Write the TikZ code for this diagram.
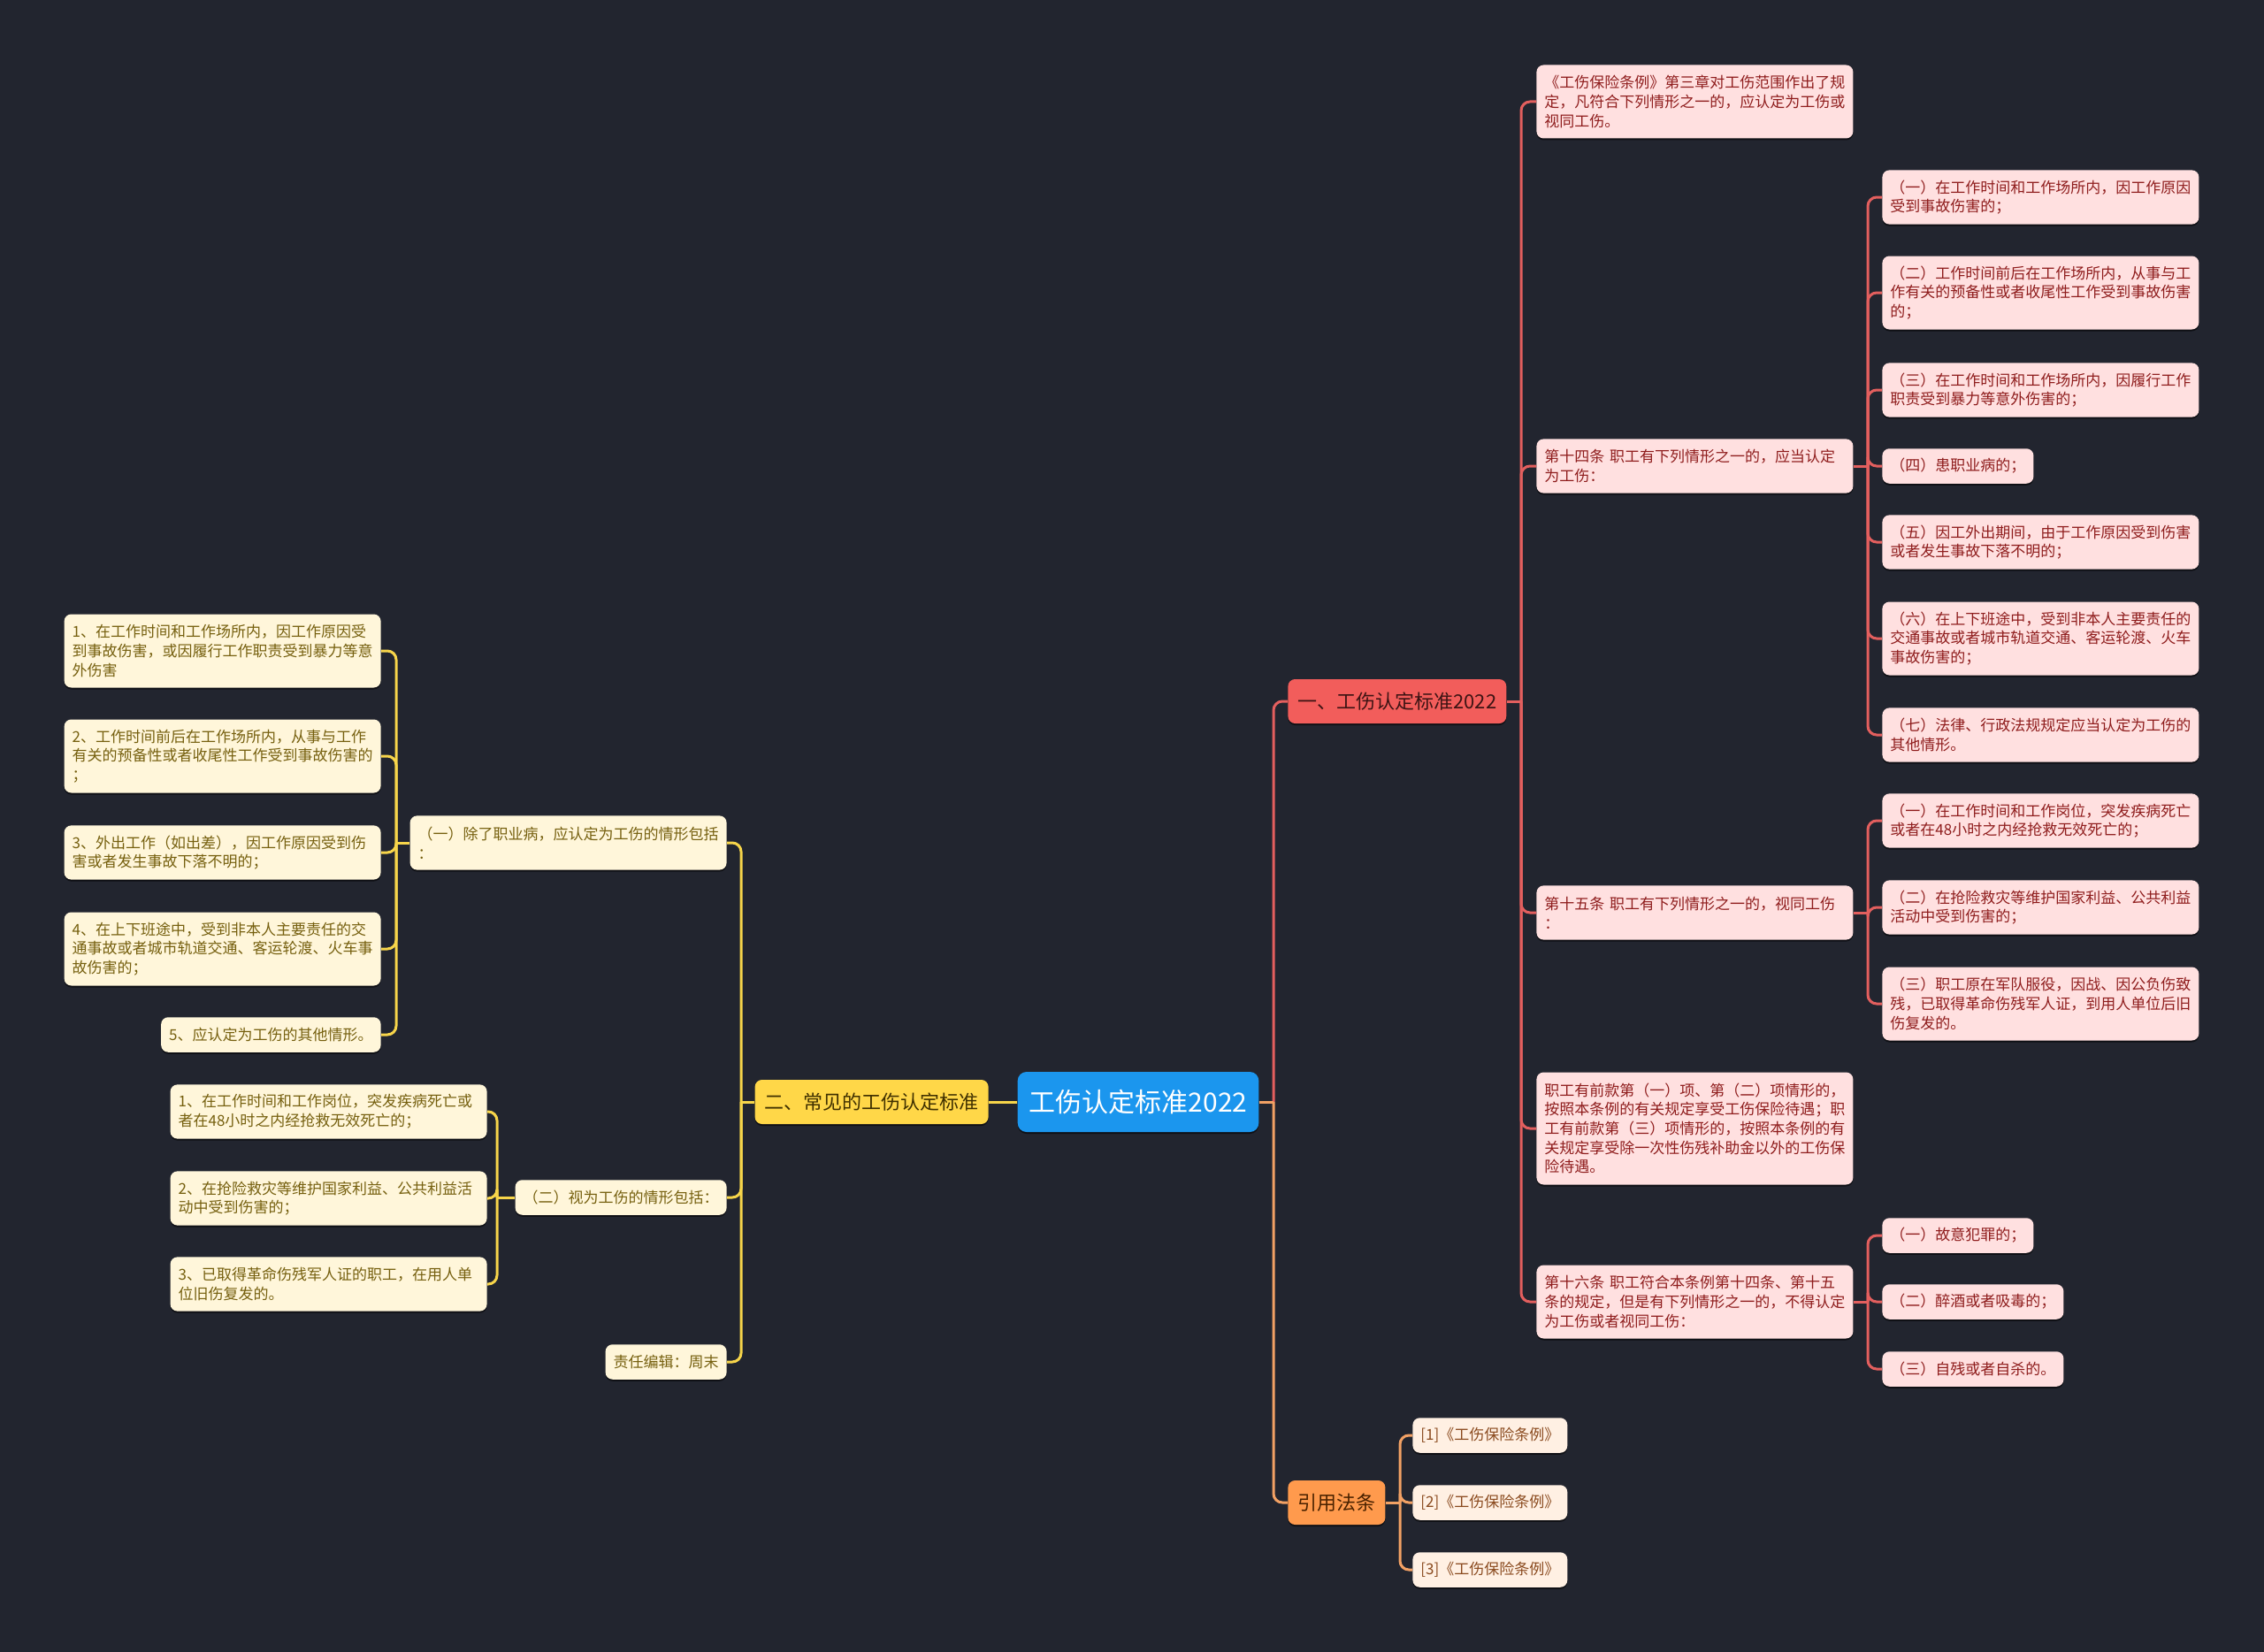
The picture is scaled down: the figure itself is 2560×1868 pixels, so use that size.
\documentclass[tikz,border=0pt]{standalone}
\usepackage{fontspec}
\setmainfont{Noto Sans CJK SC}
\usetikzlibrary{shadows}
\definecolor{bg}{HTML}{22252F}
\definecolor{rootfill}{HTML}{1B96EE}
\definecolor{rfill}{HTML}{F25D5B}
\definecolor{rdark}{HTML}{3D1414}
\definecolor{rln}{HTML}{E35F5E}
\definecolor{rleaffill}{HTML}{FFE0E0}
\definecolor{rtext}{HTML}{8F1D1D}
\definecolor{yfill}{HTML}{FFD748}
\definecolor{ydark}{HTML}{3F3000}
\definecolor{yln}{HTML}{F7D54A}
\definecolor{yleaffill}{HTML}{FFF6DA}
\definecolor{ytext}{HTML}{76600F}
\definecolor{ofill}{HTML}{FF9A4D}
\definecolor{odark}{HTML}{4A2200}
\definecolor{oln}{HTML}{F2A164}
\definecolor{oleaffill}{HTML}{FFF0E3}
\definecolor{otext}{HTML}{8A4A1E}
\begin{document}
\begin{tikzpicture}[x=0.5pt,y=-0.5pt,
  box/.style={rounded corners=4pt, inner xsep=4.5pt, inner ysep=1pt, align=left,
    font=\fontsize{8.5pt}{10.85pt}\selectfont,
    drop shadow={shadow xshift=0pt, shadow yshift=-1pt, fill=black, opacity=0.55}},
  wide/.style={text width=170pt},
  hA/.style={minimum height=19.75pt},
  hB/.style={minimum height=30.6pt},
  hC/.style={minimum height=41.5pt},
  hE/.style={minimum height=63.5pt},
  rleaf/.style={box, fill=rleaffill, text=rtext},
  yleaf/.style={box, fill=yleaffill, text=ytext},
  oleaf/.style={box, fill=oleaffill, text=otext},
  topic/.style={rounded corners=4pt, inner xsep=5.5pt, inner ysep=1pt, minimum height=25pt,
    font=\fontsize{11pt}{13pt}\selectfont,
    drop shadow={shadow xshift=0pt, shadow yshift=-1pt, fill=black, opacity=0.55}},
  rline/.style={draw=rln, line width=1.5pt, rounded corners=5pt},
  yline/.style={draw=yln, line width=1.5pt, rounded corners=5pt},
  oline/.style={draw=oln, line width=1.5pt, rounded corners=5pt},
]
\fill[bg] (0,0) rectangle (2560,1868);
\useasboundingbox (0,0) rectangle (2560,1868);

% root
\node[rounded corners=5pt, fill=rootfill, text=white, inner xsep=6.5pt, minimum height=34pt,
  font=\fontsize{15pt}{17pt}\selectfont,
  drop shadow={shadow xshift=0pt, shadow yshift=-1pt, fill=black, opacity=0.55}]
  (root) at (1287,1246) {工伤认定标准2022};

% level 1
\node[topic, fill=rfill, text=rdark, anchor=west] (R1) at (1456,793) {一、工伤认定标准2022};
\node[topic, fill=yfill, text=ydark, anchor=east] (Y1) at (1118,1246) {二、常见的工伤认定标准};
\node[topic, fill=ofill, text=odark, anchor=west] (O1) at (1456,1699) {引用法条};

% red level 2
\node[rleaf, wide, hC, anchor=west] (ra) at (1737,115) {《工伤保险条例》第三章对工伤范围作出了规\\定，凡符合下列情形之一的，应认定为工伤或\\视同工伤。};
\node[rleaf, wide, hB, anchor=west] (r14) at (1737,527) {第十四条 职工有下列情形之一的，应当认定\\为工伤：};
\node[rleaf, wide, hB, anchor=west] (r15) at (1737,1032) {第十五条 职工有下列情形之一的，视同工伤\\：};
\node[rleaf, wide, hE, anchor=west] (rn) at (1737,1276) {职工有前款第（一）项、第（二）项情形的，\\按照本条例的有关规定享受工伤保险待遇；职\\工有前款第（三）项情形的，按照本条例的有\\关规定享受除一次性伤残补助金以外的工伤保\\险待遇。};
\node[rleaf, wide, hC, anchor=west] (r16) at (1737,1472) {第十六条 职工符合本条例第十四条、第十五\\条的规定，但是有下列情形之一的，不得认定\\为工伤或者视同工伤：};

% red level 3
\node[rleaf, wide, hB, anchor=west] (c1) at (2128,223) {（一）在工作时间和工作场所内，因工作原因\\受到事故伤害的；};
\node[rleaf, wide, hC, anchor=west] (c2) at (2128,331) {（二）工作时间前后在工作场所内，从事与工\\作有关的预备性或者收尾性工作受到事故伤害\\的；};
\node[rleaf, wide, hB, anchor=west] (c3) at (2128,441) {（三）在工作时间和工作场所内，因履行工作\\职责受到暴力等意外伤害的；};
\node[rleaf, hA, anchor=west] (c4) at (2128,527) {（四）患职业病的；};
\node[rleaf, wide, hB, anchor=west] (c5) at (2128,613) {（五）因工外出期间，由于工作原因受到伤害\\或者发生事故下落不明的；};
\node[rleaf, wide, hC, anchor=west] (c6) at (2128,722) {（六）在上下班途中，受到非本人主要责任的\\交通事故或者城市轨道交通、客运轮渡、火车\\事故伤害的；};
\node[rleaf, wide, hB, anchor=west] (c7) at (2128,831) {（七）法律、行政法规规定应当认定为工伤的\\其他情形。};

\node[rleaf, wide, hB, anchor=west] (d1) at (2128,928) {（一）在工作时间和工作岗位，突发疾病死亡\\或者在48小时之内经抢救无效死亡的；};
\node[rleaf, wide, hB, anchor=west] (d2) at (2128,1026) {（二）在抢险救灾等维护国家利益、公共利益\\活动中受到伤害的；};
\node[rleaf, wide, hC, anchor=west] (d3) at (2128,1135) {（三）职工原在军队服役，因战、因公负伤致\\残，已取得革命伤残军人证，到用人单位后旧\\伤复发的。};

\node[rleaf, hA, anchor=west] (e1) at (2128,1397) {（一）故意犯罪的；};
\node[rleaf, hA, anchor=west] (e2) at (2128,1472) {（二）醉酒或者吸毒的；};
\node[rleaf, hA, anchor=west] (e3) at (2128,1548) {（三）自残或者自杀的。};

% orange level 2
\node[oleaf, hA, anchor=west] (o1) at (1597,1623) {[1]《工伤保险条例》};
\node[oleaf, hA, anchor=west] (o2) at (1597,1699) {[2]《工伤保险条例》};
\node[oleaf, hA, anchor=west] (o3) at (1597,1775) {[3]《工伤保险条例》};

% yellow level 2
\node[yleaf, wide, hB, anchor=east] (ya) at (822,953) {（一）除了职业病，应认定为工伤的情形包括\\：};
\node[yleaf, hA, anchor=east] (yb) at (822,1354) {（二）视为工伤的情形包括：};
\node[yleaf, hA, anchor=east] (yc) at (822,1540) {责任编辑：周末};

% yellow level 3
\node[yleaf, wide, hC, anchor=east] (a1) at (431,736) {1、在工作时间和工作场所内，因工作原因受\\到事故伤害，或因履行工作职责受到暴力等意\\外伤害};
\node[yleaf, wide, hC, anchor=east] (a2) at (431,855) {2、工作时间前后在工作场所内，从事与工作\\有关的预备性或者收尾性工作受到事故伤害的\\；};
\node[yleaf, wide, hB, anchor=east] (a3) at (431,964) {3、外出工作（如出差），因工作原因受到伤\\害或者发生事故下落不明的；};
\node[yleaf, wide, hC, anchor=east] (a4) at (431,1073) {4、在上下班途中，受到非本人主要责任的交\\通事故或者城市轨道交通、客运轮渡、火车事\\故伤害的；};
\node[yleaf, hA, anchor=east] (a5) at (431,1170) {5、应认定为工伤的其他情形。};

\node[yleaf, wide, hB, anchor=east] (b1) at (551,1257) {1、在工作时间和工作岗位，突发疾病死亡或\\者在48小时之内经抢救无效死亡的；};
\node[yleaf, wide, hB, anchor=east] (b2) at (551,1355) {2、在抢险救灾等维护国家利益、公共利益活\\动中受到伤害的；};
\node[yleaf, wide, hB, anchor=east] (b3) at (551,1452) {3、已取得革命伤残军人证的职工，在用人单\\位旧伤复发的。};

% trunk coordinates
\coordinate (tRoot) at (1440,1246);
\coordinate (tR1) at (1720,793);
\coordinate (t14) at (2112,527);
\coordinate (t15) at (2112,1032);
\coordinate (t16) at (2112,1472);
\coordinate (tO1) at (1583,1699);
\coordinate (tY1) at (838,1246);
\coordinate (tya) at (448,953);
\coordinate (tyb) at (562,1354);

% connectors: stem from parent to trunk, then one branch per child
\draw[rline] (root.east) -- (tRoot);
\draw[rline] (tRoot) |- (R1.west);
\draw[oline] (tRoot) |- (O1.west);
\draw[oline] (root.east) -- (tRoot);
\draw[yline] (root.west) -- (Y1.east);

\draw[rline] (R1.east) -- (tR1);
\foreach \n in {ra,r14,r15,rn,r16} \draw[rline] (tR1) |- (\n.west);
\draw[rline] (r14.east) -- (t14);
\foreach \n in {c1,c2,c3,c4,c5,c6,c7} \draw[rline] (t14) |- (\n.west);
\draw[rline] (r15.east) -- (t15);
\foreach \n in {d1,d2,d3} \draw[rline] (t15) |- (\n.west);
\draw[rline] (r16.east) -- (t16);
\foreach \n in {e1,e2,e3} \draw[rline] (t16) |- (\n.west);
\draw[oline] (O1.east) -- (tO1);
\foreach \n in {o1,o2,o3} \draw[oline] (tO1) |- (\n.west);
\draw[yline] (Y1.west) -- (tY1);
\foreach \n in {ya,yb,yc} \draw[yline] (tY1) |- (\n.east);
\draw[yline] (ya.west) -- (tya);
\foreach \n in {a1,a2,a3,a4,a5} \draw[yline] (tya) |- (\n.east);
\draw[yline] (yb.west) -- (tyb);
\foreach \n in {b1,b2,b3} \draw[yline] (tyb) |- (\n.east);
\end{tikzpicture}
\end{document}
